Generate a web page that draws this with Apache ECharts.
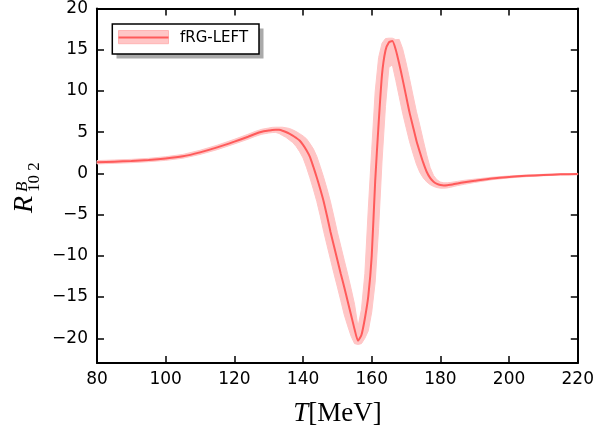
<!DOCTYPE html>
<html><head><meta charset="utf-8">
<script src="https://cdn.jsdelivr.net/npm/echarts@6/dist/echarts.min.js"></script>
<style>html,body{margin:0;padding:0;background:#fff}#c{width:597px;height:432px}</style>
</head><body><div id="c"></div>
<script>
// ---- data ----
const seriesName = 'fRG-LEFT';
const temps = [80,85,90,95,100,105,110,115,120,124,126,128,130,131,132,133,134,135,136,137,138,139,140,141,142,143,144,145,146,147,148,149,150,151,152,153,154,155,156,157,158,159,160,161,162,163,164,165,166,167,168,169,170,171,172,173,174,175,176,177,178,179,180,181,182,183,184,185,187,190,195,200,205,210,215,220];
const center = [1.35,1.42,1.5,1.62,1.8,2.07,2.55,3.15,3.85,4.45,4.78,5.05,5.2,5.27,5.3,5.28,5.18,5.02,4.82,4.58,4.3,3.98,3.45,2.8,2.0,0.8,-0.5,-1.9,-3.4,-5.2,-7.1,-8.8,-10.5,-12.2,-13.8,-15.5,-17.2,-18.9,-20.3,-19.6,-17.6,-14.9,-10.0,-1.0,6.0,12.0,14.9,15.9,16.05,15.0,13.3,11.4,9.4,7.4,5.7,4.0,2.6,1.3,0.2,-0.55,-1.0,-1.28,-1.42,-1.47,-1.45,-1.38,-1.3,-1.22,-1.08,-0.9,-0.62,-0.43,-0.3,-0.2,-0.12,-0.08];
const bandLow = [1.15,1.22,1.3,1.42,1.58,1.84,2.3,2.88,3.57,4.15,4.48,4.75,4.9,4.95,4.97,4.85,4.6,4.38,4.06,3.74,3.26,2.63,1.87,0.74,-0.54,-1.92,-3.4,-5.14,-7.02,-8.76,-10.46,-12.16,-13.78,-15.46,-17.16,-18.5,-19.76,-20.65,-20.75,-20.65,-20.0,-19.1,-16.82,-13.2,-6.7,1.5,8.1,12.86,13.17,11.29,9.3,7.3,5.57,3.87,2.44,1.13,0.12,-0.55,-1.03,-1.36,-1.58,-1.72,-1.79,-1.79,-1.76,-1.68,-1.58,-1.48,-1.32,-1.1,-0.77,-0.55,-0.4,-0.29,-0.2,-0.16];
const bandHigh = [1.55,1.62,1.7,1.82,2.02,2.3,2.8,3.42,4.13,4.75,5.08,5.35,5.5,5.58,5.6,5.6,5.6,5.53,5.45,5.28,5.07,4.82,4.54,4.2,3.62,2.98,2.06,0.84,-0.48,-1.9,-3.46,-5.28,-7.14,-8.84,-10.54,-12.22,-14.0,-15.88,-18.6,-16.5,-12.15,-4.3,2.9,9.9,14.04,15.8,16.35,16.4,16.4,16.22,16.25,15.13,13.41,11.5,9.5,7.53,5.83,4.02,2.25,0.72,-0.25,-0.78,-1.05,-1.15,-1.14,-1.1,-1.03,-0.97,-0.84,-0.7,-0.47,-0.31,-0.2,-0.11,-0.04,0.0];
const xTicks = [80,100,120,140,160,180,200,220];
const yTicks = [-20,-15,-10,-5,0,5,10,15,20];

// ---- chart ----
const LINE = '#ff5a5a';
const BAND = '#ffc6c6';
const lineData = temps.map((t, i) => [t, center[i]]);
const fmt = v => String(v).replace('-', '\u2212');
const axLine = {show:true, onZero:false, lineStyle:{color:'#000', width:2}};
const tickSt = {color:'#000', width:1.5};

const chart = echarts.init(document.getElementById('c'), null, {renderer:'canvas'});
chart.setOption({
  animation:false,
  backgroundColor:'#fff',
  grid:{left:97, right:18.5, top:7.3, bottom:68.7},
  xAxis:[
    {type:'value', min:xTicks[0], max:xTicks[xTicks.length-1], interval:20, position:'bottom',
     axisLine:axLine, axisTick:{inside:true, length:7, lineStyle:tickSt},
     axisLabel:{color:'#000', fontSize:17, fontFamily:'DejaVu Sans', margin:8},
     splitLine:{show:false},
     name:'{i|T}{r|[MeV]}', nameLocation:'middle', nameGap:37,
     nameTextStyle:{rich:{i:{fontFamily:'Liberation Serif', fontStyle:'italic', fontSize:27, color:'#000'},
                          r:{fontFamily:'Liberation Serif', fontSize:27, color:'#000'}}}},
    {type:'value', min:xTicks[0], max:xTicks[xTicks.length-1], interval:20, position:'top',
     axisLine:axLine, axisTick:{inside:true, length:7, lineStyle:tickSt},
     axisLabel:{show:false}, splitLine:{show:false}}
  ],
  yAxis:[
    {type:'value', min:-23, max:20, position:'left',
     axisLine:axLine, axisTick:{inside:true, length:7, lineStyle:tickSt, customValues:yTicks},
     axisLabel:{color:'#000', fontSize:17, fontFamily:'DejaVu Sans', margin:9, customValues:yTicks, formatter:fmt},
     splitLine:{show:false}},
    {type:'value', min:-23, max:20, position:'right',
     axisLine:axLine, axisTick:{inside:true, length:7, lineStyle:tickSt, customValues:yTicks},
     axisLabel:{show:false}, splitLine:{show:false}}
  ],
  series:[
    {type:'custom', name:seriesName + ' band', silent:true, z:1,
     data:[[temps[0], center[0]]],
     renderItem:(params, api) => {
       const pts = [];
       for (let i = 0; i < temps.length; i++) pts.push(api.coord([temps[i], bandHigh[i]]));
       for (let i = temps.length - 1; i >= 0; i--) pts.push(api.coord([temps[i], bandLow[i]]));
       return {type:'polygon', shape:{points:pts}, style:{fill:BAND, stroke:BAND, lineWidth:1, lineJoin:'round'}};
     }},
    {type:'line', name:seriesName, data:lineData, smooth:0.2, symbol:'none', showSymbol:false, z:2,
     lineStyle:{color:LINE, width:2}}
  ],
  graphic:[
    {type:'rect', shape:{x:116.5, y:28.5, width:147, height:30}, style:{fill:'#aaaaaa'}, z:10},
    {type:'rect', shape:{x:112.3, y:24, width:146.7, height:30}, style:{fill:'#fff', stroke:'#000', lineWidth:1.5}, z:11},
    {type:'rect', shape:{x:118.5, y:30.5, width:50, height:13.2}, style:{fill:BAND, stroke:'#ffb4b4', lineWidth:1}, z:12},
    {type:'line', shape:{x1:118.5, y1:37.5, x2:168.5, y2:37.5}, style:{stroke:LINE, lineWidth:2}, z:13},
    {type:'text', x:180, y:38.5, z:13, style:{text:seriesName, font:'15px "DejaVu Sans"', fill:'#000', verticalAlign:'middle', align:'left'}},
    {type:'group', x:33, y:213, rotation:Math.PI/2, z:13, children:[
      {type:'text', x:0, y:6, style:{text:'R', font:'italic 28px "Liberation Serif"', fill:'#000', align:'left', verticalAlign:'bottom'}},
      {type:'text', x:21, y:-1.5, style:{text:'B', font:'italic 17px "Liberation Serif"', fill:'#000', align:'left', verticalAlign:'bottom'}},
      {type:'text', x:21, y:10.5, style:{text:'10 2', font:'17px "Liberation Serif"', fill:'#000', align:'left', verticalAlign:'bottom'}}
    ]}
  ]
});
</script></body></html>
